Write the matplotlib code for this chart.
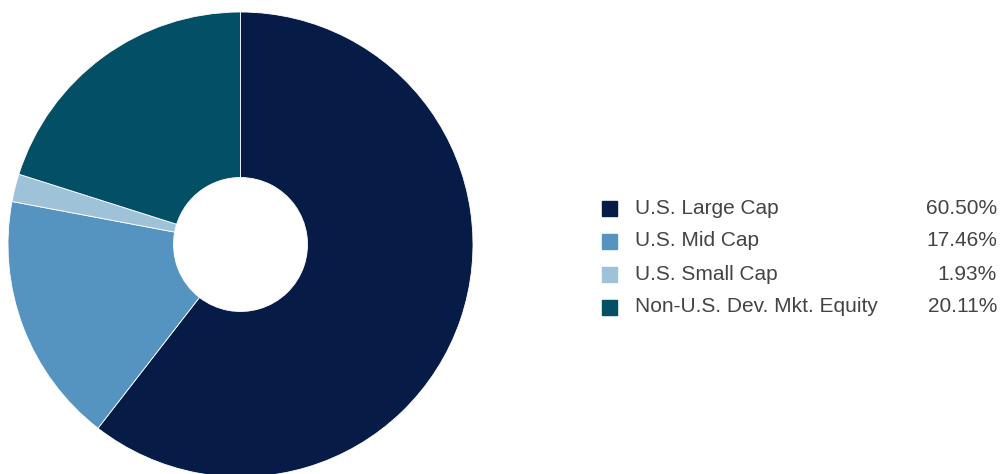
import matplotlib.pyplot as plt
from matplotlib.patches import Rectangle

categories = ['U.S. Large Cap', 'U.S. Mid Cap', 'U.S. Small Cap', 'Non-U.S. Dev. Mkt. Equity']
values = [60.50, 17.46, 1.93, 20.11]
colors = ['#061c47', '#5593c1', '#9ec3d8', '#035066']

plt.rcParams['font.family'] = ['Liberation Sans', 'DejaVu Sans']

W, H = 1000, 474
fig = plt.figure(figsize=(W / 100, H / 100), dpi=100)

# pie placed in pixel terms
cx, cy, r = 240.5, 244.5, 232.5
ax = fig.add_axes([(cx - r) / W, (H - cy - r) / H, 2 * r / W, 2 * r / H])
ax.pie(values, colors=colors, startangle=90, counterclock=False, radius=1,
       wedgeprops=dict(width=1 - 67 / 232.5, edgecolor='white', linewidth=0.6))
ax.set_xlim(-1, 1)
ax.set_ylim(-1, 1)
ax.set_aspect('equal')
ax.axis('off')

# legend
row_y = [208, 241, 274, 307]
sq = 15
for name, val, col, y in zip(categories, values, colors, row_y):
    fig.patches.append(Rectangle(((602) / W, (H - y - sq / 2) / H), sq / W, sq / H,
                                 transform=fig.transFigure, color=col))
    fig.text(635 / W, (H - y) / H, name, fontsize=15, color='#444444',
             va='center', ha='left')
    fig.text(997 / W, (H - y) / H, f'{val:.2f}%', fontsize=15, color='#444444',
             va='center', ha='right')

fig.savefig('out.png', dpi=100)
